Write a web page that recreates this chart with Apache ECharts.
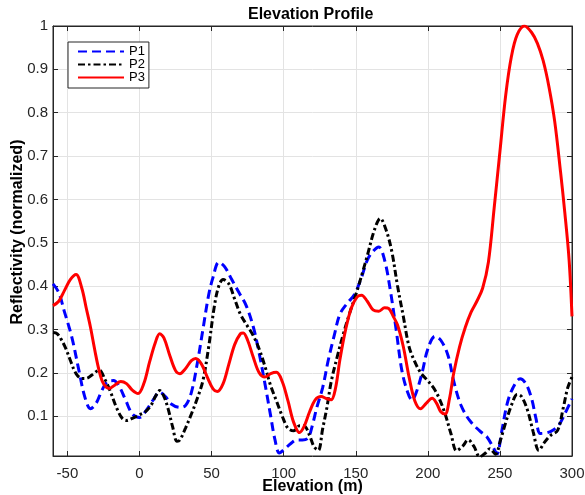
<!DOCTYPE html>
<html>
<head>
<meta charset="utf-8">
<script src="https://cdn.jsdelivr.net/npm/echarts@6/dist/echarts.min.js"></script>
<style>
  html, body { margin: 0; padding: 0; background: #fff; }
  #profile { width: 585px; height: 495px; }
</style>
</head>
<body>
<div id="profile"></div>
<script>
// elevation (m) / normalized reflectivity
var p1X = [-60, -56, -52, -47, -42, -38, -34, -30, -26, -22, -18, -14, -10, -5, 0, 5, 9, 14, 18, 22, 28, 32, 36, 40, 44, 48, 51, 55, 59, 64, 69, 74, 79, 83, 87, 91, 94, 97, 101, 105, 109, 113, 117, 120, 123, 127, 131, 135, 139, 144, 149, 154, 158, 162, 166, 170, 174, 178, 182, 186, 189, 192, 196, 200, 205, 209, 214, 218, 223, 229, 236, 241, 245, 248, 251, 255, 259, 264, 268, 272, 275, 278, 283, 287, 291, 295, 300];
var p1Y = [0.405, 0.385, 0.34, 0.283, 0.205, 0.145, 0.117, 0.13, 0.16, 0.18, 0.182, 0.168, 0.14, 0.105, 0.097, 0.115, 0.135, 0.155, 0.145, 0.128, 0.12, 0.125, 0.155, 0.22, 0.3, 0.38, 0.42, 0.455, 0.445, 0.415, 0.385, 0.355, 0.305, 0.245, 0.175, 0.1, 0.045, 0.015, 0.025, 0.037, 0.045, 0.045, 0.05, 0.08, 0.12, 0.165, 0.23, 0.285, 0.335, 0.36, 0.38, 0.42, 0.46, 0.48, 0.49, 0.46, 0.39, 0.3, 0.205, 0.155, 0.137, 0.155, 0.2, 0.255, 0.284, 0.275, 0.24, 0.18, 0.125, 0.09, 0.066, 0.052, 0.03, 0.013, 0.06, 0.128, 0.165, 0.186, 0.175, 0.14, 0.095, 0.06, 0.062, 0.068, 0.08, 0.105, 0.14];

var p2X = [-60, -57, -54, -51, -48, -44, -40, -37, -33, -28, -24, -20, -16, -12, -9, -5, 0, 4, 8, 11, 14, 17, 20, 23, 26, 28, 32, 36, 40, 44, 48, 52, 55, 58, 62, 66, 70, 75, 79, 83, 87, 91, 95, 99, 103, 107, 111, 114, 118, 121, 124, 127, 130, 133, 137, 141, 146, 151, 155, 158, 163, 167, 171, 175, 179, 183, 187, 191, 195, 199, 204, 208, 212, 216, 220, 224, 228, 232, 236, 240, 243, 247, 250, 254, 258, 262, 265, 269, 273, 277, 281, 285, 290, 294, 297, 300];
var p2Y = [0.293, 0.29, 0.275, 0.255, 0.229, 0.198, 0.187, 0.187, 0.195, 0.206, 0.185, 0.155, 0.12, 0.095, 0.09, 0.095, 0.103, 0.11, 0.125, 0.145, 0.159, 0.145, 0.115, 0.075, 0.042, 0.045, 0.073, 0.105, 0.14, 0.182, 0.26, 0.355, 0.4, 0.415, 0.405, 0.37, 0.335, 0.307, 0.285, 0.255, 0.215, 0.17, 0.135, 0.1, 0.072, 0.066, 0.078, 0.078, 0.055, 0.03, 0.021, 0.07, 0.12, 0.18, 0.235, 0.285, 0.34, 0.39, 0.435, 0.47, 0.53, 0.556, 0.53, 0.48, 0.4, 0.33, 0.26, 0.225, 0.2, 0.185, 0.165, 0.14, 0.105, 0.06, 0.02, 0.03, 0.045, 0.03, 0.006, 0.015, 0.025, 0.012, 0.04, 0.085, 0.125, 0.15, 0.145, 0.115, 0.065, 0.021, 0.04, 0.055, 0.067, 0.12, 0.165, 0.19];

var p3X = [-60, -56, -52, -48, -44, -40, -37, -34, -31, -28, -25, -21, -17, -13, -9, -5, -1, 3, 7, 11, 14, 17, 21, 25, 28, 32, 36, 39, 43, 47, 51, 54, 58, 62, 66, 70, 72, 75, 79, 83, 87, 91, 95, 99, 103, 107, 111, 114, 118, 122, 126, 130, 133, 136, 139, 143, 147, 151, 154, 158, 162, 166, 170, 173, 176, 179, 183, 187, 191, 195, 199, 203, 206, 209, 212, 215, 218, 222, 226, 230, 234, 238, 242, 246, 250, 254, 258, 262, 267, 272, 276, 280, 284, 288, 292, 295, 298, 300];
var p3Y = [0.355, 0.365, 0.39, 0.415, 0.427, 0.395, 0.35, 0.305, 0.252, 0.205, 0.175, 0.164, 0.172, 0.18, 0.175, 0.16, 0.152, 0.175, 0.225, 0.27, 0.29, 0.28, 0.24, 0.205, 0.198, 0.21, 0.228, 0.233, 0.22, 0.19, 0.163, 0.157, 0.175, 0.22, 0.265, 0.29, 0.292, 0.275, 0.235, 0.2, 0.19, 0.198, 0.201, 0.18, 0.135, 0.085, 0.062, 0.075, 0.11, 0.138, 0.145, 0.14, 0.138, 0.165, 0.23, 0.3, 0.35, 0.375, 0.379, 0.365, 0.345, 0.342, 0.35, 0.348, 0.33, 0.31, 0.26, 0.19, 0.135, 0.117, 0.13, 0.141, 0.13, 0.11, 0.105, 0.14, 0.2, 0.26, 0.305, 0.34, 0.365, 0.395, 0.455, 0.58, 0.71, 0.84, 0.93, 0.98, 1.0, 0.985, 0.96, 0.92, 0.86, 0.78, 0.665, 0.57, 0.46, 0.33];

var xTicks = [-50, 0, 50, 100, 150, 200, 250, 300];
var yTicks = [0.1, 0.2, 0.3, 0.4, 0.5, 0.6, 0.7, 0.8, 0.9, 1];

var xMin = -60, xMax = 300, yMin = 0.008, yMax = 1;

function pairs(xs, ys) {
  return xs.map(function (x, i) { return [x, ys[i]]; });
}

function onTick(list, v) {
  return list.some(function (t) { return Math.abs(t - v) < 1e-6; });
}

var axisColor = "#262626";
var gridColor = "#e3e3e3";

var chartDom = document.getElementById("profile");
var myChart = echarts.init(chartDom);
var option;

option = {
  animation: false,
  backgroundColor: "#fff",
  textStyle: { fontFamily: "Liberation Sans, Arial, sans-serif" },
  title: {
    text: "Elevation Profile",
    left: 243,
    top: 2,
    textStyle: { fontSize: 16, fontWeight: "bold", color: "#000" },
  },
  grid: {
    left: 53, right: 13, top: 26, bottom: 39,
    containLabel: false, outerBoundsMode: "none",
    show: true, borderColor: axisColor, borderWidth: 1, backgroundColor: "transparent",
  },
  legend: {
    orient: "vertical",
    left: 68,
    top: 42,
    padding: [3, 4, 4, 9],
    itemGap: 0,
    itemWidth: 46,
    itemHeight: 12,
    borderColor: axisColor,
    borderWidth: 1,
    borderRadius: 0,
    backgroundColor: "#fff",
    itemStyle: { opacity: 0 },
    textStyle: { fontSize: 13, color: "#000", lineHeight: 12 },
    data: ["P1", "P2", "P3"],
  },
  xAxis: [
    {
      type: "value",
      min: xMin,
      max: xMax,
      splitNumber: 7,
      name: "Elevation (m)",
      nameLocation: "middle",
      nameGap: 23,
      nameMoveOverlap: false,
      nameTextStyle: { fontSize: 16, fontWeight: "bold", color: "#000" },
      axisLine: { onZero: false, lineStyle: { color: axisColor, width: 1 } },
      axisTick: { inside: true, length: 5, lineStyle: { color: axisColor } },
      axisLabel: {
        fontSize: 15,
        color: axisColor,
        margin: 10,
        formatter: function (v) { return onTick(xTicks, v) ? String(v) : ""; },
      },
      splitLine: { show: true, lineStyle: { color: gridColor, width: 1 } },
    },
    {
      type: "value",
      position: "top",
      min: xMin,
      max: xMax,
      splitNumber: 7,
      axisLine: { show: true, onZero: false, lineStyle: { color: axisColor, width: 1 } },
      axisTick: { show: true, inside: true, length: 5, lineStyle: { color: axisColor } },
      axisLabel: { show: false },
      splitLine: { show: false },
    },
  ],
  yAxis: [
    {
      type: "value",
      min: yMin,
      max: yMax,
      splitNumber: 10,
      name: "Reflectivity (normalized)",
      nameLocation: "middle",
      nameGap: 27,
      nameMoveOverlap: false,
      nameTextStyle: { fontSize: 16, fontWeight: "bold", color: "#000", padding: [0, 0, 0, 18] },
      axisLine: { show: true, onZero: false, lineStyle: { color: axisColor, width: 1 } },
      axisTick: { show: true, inside: true, length: 5, lineStyle: { color: axisColor } },
      axisLabel: {
        fontSize: 15,
        color: axisColor,
        margin: 5,
        formatter: function (v) { return onTick(yTicks, v) ? String(Math.round(v * 10) / 10) : ""; },
      },
      splitLine: { show: true, lineStyle: { color: gridColor, width: 1 } },
    },
    {
      type: "value",
      position: "right",
      min: yMin,
      max: yMax,
      splitNumber: 10,
      axisLine: { show: true, onZero: false, lineStyle: { color: axisColor, width: 1 } },
      axisTick: { show: true, inside: true, length: 5, lineStyle: { color: axisColor } },
      axisLabel: { show: false },
      splitLine: { show: false },
    },
  ],
  series: [
    {
      name: "P1",
      type: "line",
      smooth: 0.35,
      symbol: "none",
      clip: true,
      lineStyle: { color: "#0000ff", width: 3, type: [9, 5] },
      itemStyle: { color: "#0000ff" },
      data: pairs(p1X, p1Y),
    },
    {
      name: "P2",
      type: "line",
      smooth: 0.35,
      symbol: "none",
      clip: true,
      lineStyle: { color: "#000000", width: 3, type: [7, 3, 2.5, 3] },
      itemStyle: { color: "#000000" },
      data: pairs(p2X, p2Y),
    },
    {
      name: "P3",
      type: "line",
      smooth: 0.35,
      symbol: "none",
      clip: true,
      lineStyle: { color: "#ff0000", width: 3 },
      itemStyle: { color: "#ff0000" },
      data: pairs(p3X, p3Y),
    },
    {
      // keeps the top/right box axes (ticks only) alive
      name: "box",
      type: "line",
      xAxisIndex: 1,
      yAxisIndex: 1,
      symbol: "none",
      silent: true,
      data: [],
    },
  ],
};

option && myChart.setOption(option);
</script>
</body>
</html>
